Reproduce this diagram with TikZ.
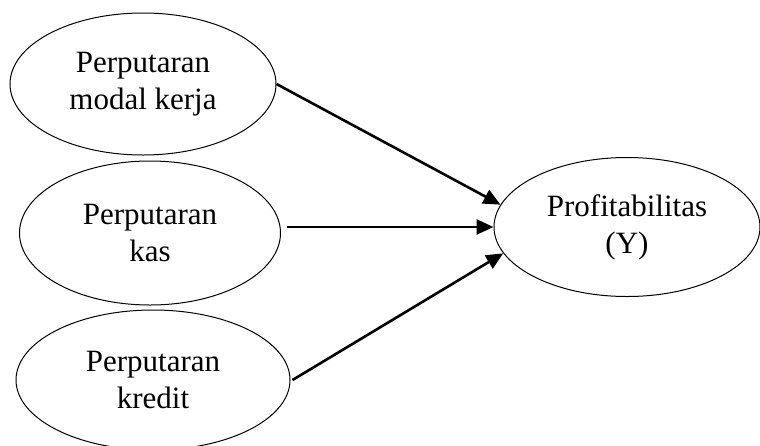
\documentclass[tikz,border=0pt]{standalone}
\usepackage{fontspec}
\setmainfont{Liberation Serif}
\usetikzlibrary{arrows.meta, shapes.geometric, positioning}

\begin{document}
\begin{tikzpicture}[x=1pt, y=-1pt,
  var/.style={draw, ellipse, inner sep=0pt, align=center, line width=1pt,
    font=\fontsize{31}{37}\selectfont},
  link/.style={-{Triangle[length=17pt, width=15pt]}, line width=2.6pt}]
\useasboundingbox (0,0) rectangle (760,445);

\node (modal) [var, minimum width=266pt, minimum height=142pt] at (143,84) {Perputaran\\modal kerja};
\node (kas) [var, minimum width=261pt, minimum height=144pt] at (150,233) {Perputaran\\kas};
\node (kredit) [var, minimum width=274pt, minimum height=140pt] at (153,380) {Perputaran\\kredit};
\node (Y) [var, minimum width=266pt, minimum height=139pt] at (627,227) {Profitabilitas\\(Y)};

\draw[link] (modal.east) -- (Y.170);
\draw[link] ([xshift=6pt]kas.east |- Y.west) -- (Y.west);
\draw[link] ([xshift=2pt]kredit.east) -- (Y.192);
\end{tikzpicture}
\end{document}
